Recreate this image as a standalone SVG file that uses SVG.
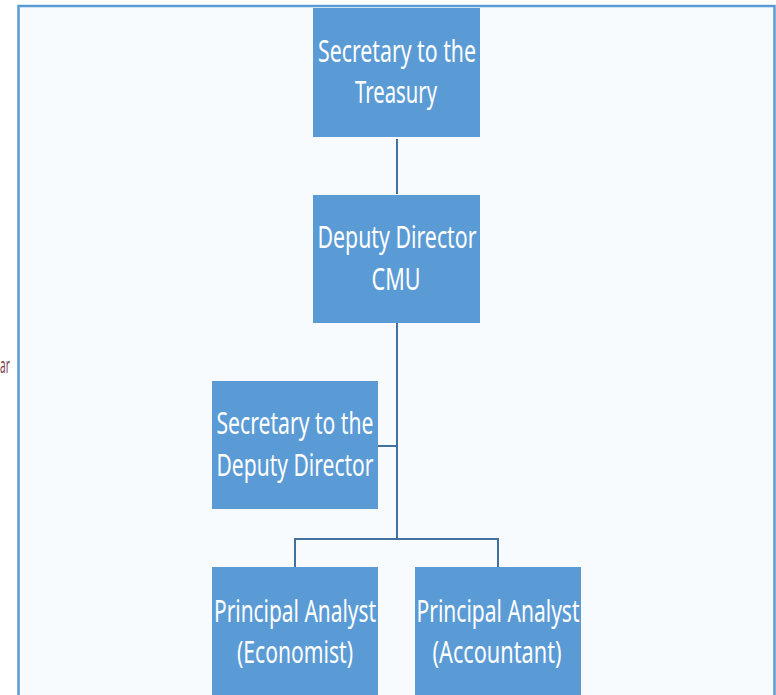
<svg xmlns="http://www.w3.org/2000/svg" width="776" height="695" viewBox="0 0 776 695">
<style>
.box{fill:#5B9BD5;}
.t{font-family:"Noto Sans","Open Sans",sans-serif;font-size:31px;fill:#FFFFFF;text-anchor:middle;}
.c{fill:none;stroke:#41719C;stroke-width:2;}
</style>
<rect x="0" y="0" width="776" height="695" fill="#FFFFFF"/>
<rect x="18.5" y="6" width="756" height="700" fill="#F7FBFD" stroke="#5B9BD5" stroke-width="2.5"/>
<text transform="translate(0,373) scale(0.7,1)" x="0" y="0" font-family="Noto Sans, sans-serif" font-size="22" fill="#7A3E52" textLength="14" lengthAdjust="spacingAndGlyphs">ar</text>
<g id="connectors">
<path class="c" d="M397 139V194"/>
<path class="c" d="M397 323V539M378 446H397M295 539H498M295 538V567M498 538V567"/>
</g>
<g id="n1">
<rect class="box" x="313" y="8" width="167" height="129"/>
<text class="t" transform="translate(397,62) scale(0.7,1)" textLength="225.7" lengthAdjust="spacingAndGlyphs">Secretary to the</text>
<text class="t" transform="translate(396,103) scale(0.7,1)" textLength="117.1" lengthAdjust="spacingAndGlyphs">Treasury</text>
</g>
<g id="n2">
<rect class="box" x="313" y="195" width="167" height="128"/>
<text class="t" transform="translate(397,248) scale(0.7,1)" textLength="227.1" lengthAdjust="spacingAndGlyphs">Deputy Director</text>
<text class="t" transform="translate(396,290) scale(0.7,1)" textLength="70" lengthAdjust="spacingAndGlyphs">CMU</text>
</g>
<g id="n3">
<rect class="box" x="212" y="381" width="166" height="128"/>
<text class="t" transform="translate(295,434) scale(0.7,1)" textLength="224.3" lengthAdjust="spacingAndGlyphs">Secretary to the</text>
<text class="t" transform="translate(295,476) scale(0.7,1)" textLength="224.3" lengthAdjust="spacingAndGlyphs">Deputy Director</text>
</g>
<g id="n4">
<rect class="box" x="212" y="567" width="166" height="140"/>
<text class="t" transform="translate(295,622) scale(0.7,1)" textLength="231.4" lengthAdjust="spacingAndGlyphs">Principal Analyst</text>
<text class="t" transform="translate(295,663) scale(0.7,1)" textLength="165.7" lengthAdjust="spacingAndGlyphs">(Economist)</text>
</g>
<g id="n5">
<rect class="box" x="415" y="567" width="166" height="140"/>
<text class="t" transform="translate(498,622) scale(0.7,1)" textLength="232.9" lengthAdjust="spacingAndGlyphs">Principal Analyst</text>
<text class="t" transform="translate(497,663) scale(0.7,1)" textLength="184.3" lengthAdjust="spacingAndGlyphs">(Accountant)</text>
</g>
</svg>
